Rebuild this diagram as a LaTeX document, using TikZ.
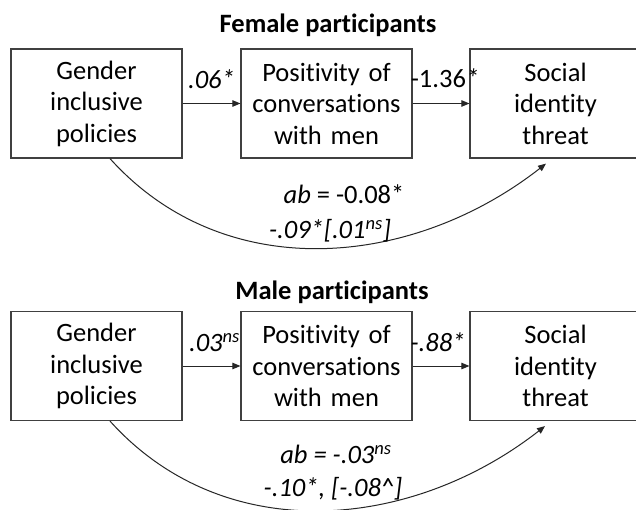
\documentclass[tikz,border=0pt]{standalone}
\usepackage{fontspec}
\setmainfont{Carlito}[RawFeature={-liga;-clig;-calt;-rlig;-dlig}]
\usetikzlibrary{arrows.meta}

\begin{document}
\begin{tikzpicture}[x=1pt,y=1pt,
  var/.style={draw=black!75,line width=1.2pt,text width=165pt,inner xsep=3pt,inner ysep=0pt,
    minimum height=109pt,align=center,font=\fontsize{26.5}{31.5}\selectfont},
  link/.style={draw=black!85,line width=1pt,-{Triangle[length=8pt,width=6.5pt]}},
  lab/.style={font=\fontsize{26.5}{31.5}\selectfont\itshape,inner sep=0pt},
  ttl/.style={font=\fontsize{26.5}{31.5}\selectfont\bfseries,inner sep=0pt}]
 \useasboundingbox (0,0) rectangle (636,509);
 \fill[white] (0,0) rectangle (636,509);
 \node[ttl] (ftitle) at (328,484) {Female participants};
 \node[var] (fgip) at (96.5,405.5) {Gender\\inclusive\\policies};
 \node[var] (fpos) at (326.5,405.5) {Positivity of\\conversations\\with men};
 \node[var] (fsit) at (555.5,405.5) {Social\\identity\\threat};
 \coordinate (fend) at ([xshift=-9.5pt,yshift=-5pt]fsit.south);
 \draw[link] (fgip) -- node[lab,above=14pt] (fa) {.06*} (fpos);
 \draw[link] (fpos) -- node[lab,above=15pt,xshift=4pt] (fb) {\upshape -1.36\textit{*}} (fsit);
 \draw[link] ([xshift=13.5pt]fgip.south) to[out=-48,in=-142] (fend);
 \node[lab] (fab) at (344,315) {ab \upshape = -0.08*};
 \node[lab] (fc) at (330,278) {-.09*[.01\textsuperscript{ns}]};
 \node[ttl] (mtitle) at (332,217) {Male participants};
 \node[var] (mgip) at (96.5,143) {Gender\\inclusive\\policies};
 \node[var] (mpos) at (326.5,143) {Positivity of\\conversations\\with men};
 \node[var] (msit) at (555.5,143) {Social\\identity\\threat};
 \coordinate (mend) at ([xshift=-10.5pt,yshift=-5pt]msit.south);
 \draw[link] (mgip) -- node[lab,above=14pt,xshift=3pt] (ma) {.03\textsuperscript{ns}} (mpos);
 \draw[link] (mpos) -- node[lab,above=14pt,xshift=-3pt] (mb) {-.88*} (msit);
 \draw[link] ([xshift=13.5pt]mgip.south) to[out=-48,in=-142] (mend);
 \node[lab] (mab) at (336,55) {ab = -.03\textsuperscript{ns}};
 \node[lab] (mc) at (333,20) {-.10*, [-.08\textasciicircum]};
\end{tikzpicture}
\end{document}
